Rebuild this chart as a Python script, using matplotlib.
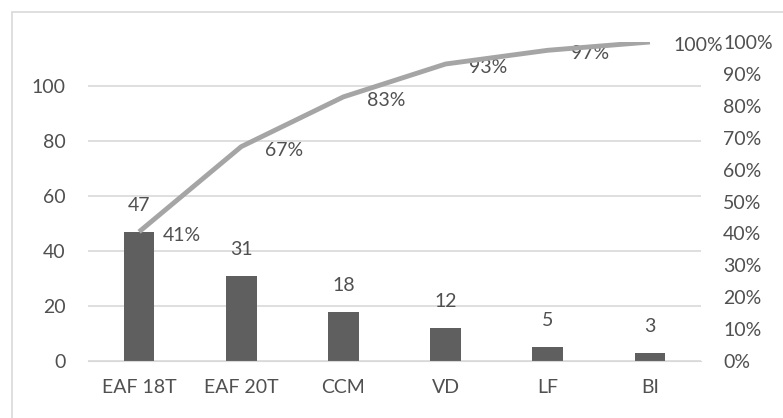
import matplotlib.pyplot as plt
from matplotlib.patches import Rectangle

categories = ["EAF 18T", "EAF 20T", "CCM", "VD", "LF", "BI"]
counts = [47, 31, 18, 12, 5, 3]
cum_pct = [40.5, 67.2, 82.8, 93.1, 97.4, 100.0]
cum_labels = ["41%", "67%", "83%", "93%", "97%", "100%"]

plt.rcParams["font.family"] = ["Lato", "DejaVu Sans"]
text_c = "#505050"
grid_c = "#d9d9d9"
fs = 14

fig = plt.figure(figsize=(7.83, 4.18), dpi=100)
ax = fig.add_axes([88 / 783, 57 / 418, 613 / 783, 319 / 418])
ax2 = ax.twinx()

x = list(range(len(categories)))
ax.bar(x, counts, width=0.3, color="#5f5f5f", zorder=2)
for xi, v in zip(x, counts):
    ax.annotate(str(v), (xi, v), xytext=(0, 19), textcoords="offset points",
                ha="center", va="center", fontsize=fs, color=text_c)

ax.set_xlim(-0.5, len(categories) - 0.5)
ax.set_ylim(0, 116)
ax.set_yticks([0, 20, 40, 60, 80, 100])
ax.set_xticks(x)
ax.set_xticklabels(categories)
ax.grid(axis="y", color=grid_c, lw=1.2, zorder=0)
ax.set_axisbelow(True)
ax.tick_params(axis="both", length=0, labelsize=fs, labelcolor=text_c)
ax.tick_params(axis="y", pad=16)
ax.tick_params(axis="x", pad=13)
for s in ax.spines.values():
    s.set_visible(False)
ax.spines["bottom"].set_visible(True)
ax.spines["bottom"].set_color(grid_c)

ax2.plot(x, cum_pct, color="#a5a5a5", lw=3.5, solid_capstyle="butt", zorder=3)
for xi, v, lab in zip(x, cum_pct, cum_labels):
    ax2.annotate(lab, (xi, v), xytext=(17, -2.5), textcoords="offset points",
                 ha="left", va="center", fontsize=fs, color=text_c, zorder=2)
ax2.set_ylim(0, 100)
ax2.set_yticks(range(0, 101, 10))
ax2.set_yticklabels([f"{t}%" for t in range(0, 101, 10)])
ax2.tick_params(axis="y", length=0, labelsize=fs, labelcolor=text_c, pad=16)
for s in ax2.spines.values():
    s.set_visible(False)

fig.patches.append(Rectangle((11.5 / 783, -0.1), 1.0, (418 - 11.5) / 418 + 0.1,
                             transform=fig.transFigure, fill=False,
                             edgecolor=grid_c, lw=1.2))

fig.savefig("out.png", dpi=100)
